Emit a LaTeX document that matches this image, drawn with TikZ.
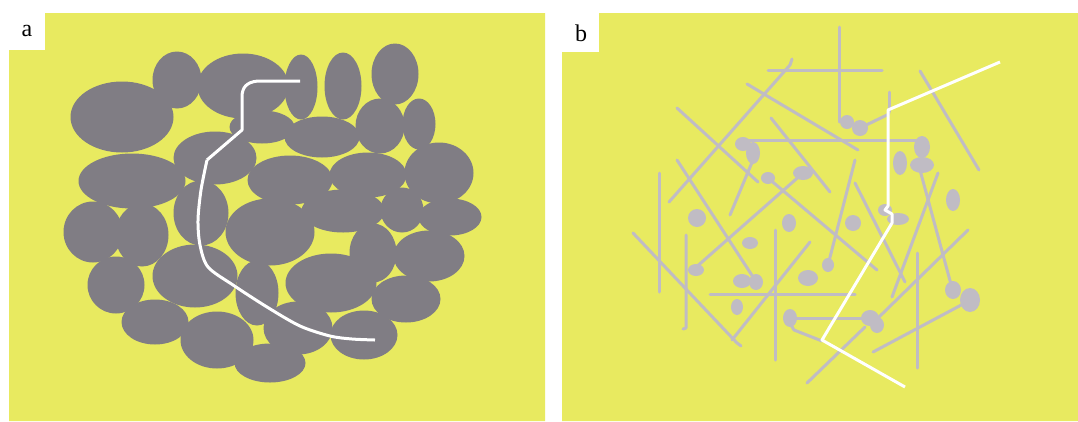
\documentclass[tikz,border=0pt]{standalone}
\usepackage{fontspec}
\setmainfont{Liberation Serif}
\definecolor{bg}{RGB}{232,234,96}
\definecolor{grain}{RGB}{128,125,132}
\definecolor{fib}{RGB}{192,188,196}
\tikzset{
  grainfill/.style={fill=grain},
  fibline/.style={draw=fib, line width=3pt, line cap=round, line join=round},
  blob/.style={fill=fib},
  wpath/.style={draw=white, line width=3pt, line join=round},
  panellabel/.style={font=\fontsize{24}{24}\selectfont, inner sep=0pt}
}
\begin{document}
\begin{tikzpicture}[x=1pt,y=-1pt]
\useasboundingbox (0,0) rectangle (1078,421);
\fill[white] (0,0) rectangle (1078,421);
% panel a background
\fill[bg] (9,50) -- (45,50) -- (45,13) -- (545,13) -- (545,421) -- (9,421) -- cycle;
\node[panellabel] (la) at (27,31) {a};
% panel b background
\fill[bg] (562,52) -- (599,52) -- (599,13) -- (1078,13) -- (1078,421) -- (562,421) -- cycle;
\node[panellabel] (lb) at (581,33) {b};
% grains in panel a
\foreach \cx/\cy/\rx/\ry in {
 122/117/50/34, 177/80/23/27, 243/86/44/31, 301/87/15/31, 343/86/17/32,
 395/74/22/29, 380/126/23/26, 419/124/15/24, 322/137/36/19, 262/127/31/15,
 215/158/40/25, 132/181/52/26, 290/180/41/23, 368/175/37/21, 439/173/33/29,
 343/211/40/20, 402/210/20/21, 450/217/30/17, 93/232/28/29, 142/235/25/30,
 201/213/26/31, 270/232/43/32, 373/253/22/28, 429/256/34/24, 116/285/27/27,
 195/276/41/30, 257/293/20/31, 331/283/44/28, 406/299/33/22, 155/322/32/21,
 217/340/35/27, 298/328/33/25, 364/335/32/23, 270/363/34/18}
 { \fill[grainfill] (\cx,\cy) ellipse [x radius=\rx+1.5, y radius=\ry+1.5]; }
% crack path in panel a
\draw[wpath] (300,81) -- (258,81) .. controls (246,82) and (242,88) .. (242,97) -- (242,130) -- (207,160);
\draw[wpath] plot[smooth, tension=0.5] coordinates {(207,160) (201,190) (198,220) (200,245) (208,267) (233,285) (267,307) (300,326) (330,336) (352,339) (375,340)};
% fibres in panel b
\draw[fibline] (839,27) -- (839,122);
\draw[fibline] (768,70) -- (882,70);
\draw[fibline] (792,59) -- (790,65) -- (669,202);
\draw[fibline] (747,84) -- (858,150);
\draw[fibline] (677,108) -- (758,182);
\draw[fibline] (771,118) -- (830,192);
\draw[fibline] (743,140) -- (922,140);
\draw[fibline] (753,160) -- (730,215);
\draw[fibline] (803,173) -- (694,269);
\draw[fibline] (768,178) -- (877,270);
\draw[fibline] (855,160) -- (828,265);
\draw[fibline] (677,160) -- (755,280);
\draw[fibline] (659,173) -- (659,292);
\draw[fibline] (633,233) -- (737,343) -- (741,346);
\draw[fibline] (686,235) -- (686,328) -- (683,329);
\draw[fibline] (732,340) -- (810,242);
\draw[fibline] (775,230) -- (775,360);
\draw[fibline] (710,294) -- (855,294);
\draw[fibline] (790,318) -- (870,318);
\draw[fibline] (791,325) -- (794,330) -- (822,341);
\draw[fibline] (807,383) -- (865,327);
\draw[fibline] (860,128) -- (889,114);
\draw[fibline] (920,71) -- (979,170);
\draw[fibline] (920,170) -- (952,288);
\draw[fibline] (938,173) -- (892,297);
\draw[fibline] (855,183) -- (905,282);
\draw[fibline] (968,230) -- (878,318);
\draw[fibline] (917,253) -- (917,368);
\draw[fibline] (965,303) -- (873,352);
\draw[fibline] (889,92) -- (889,112);
% blobs
\foreach \cx/\cy/\rx/\ry in {
 847/122/6/6, 860/128/7/7, 743/144/7/6, 753/153/6/10, 922/147/7/10,
 768/178/6/5, 803/173/9/6, 696/270/7/5, 756/282/6/7, 697/218/8/8,
 789/223/6/8, 750/243/7/5, 742/281/8/6, 808/278/9/7, 737/307/5/7,
 828/265/5/6, 790/318/6/8, 870/318/8/7, 877/325/6/7, 900/163/6/11,
 922/165/11/7, 953/200/6/10, 853/223/7/7, 898/219/10/5, 885/210/6/5,
 953/290/7/8, 970/300/9/11}
 { \fill[blob] (\cx,\cy) ellipse [x radius=\rx+1, y radius=\ry+1]; }
% crack path in panel b
\draw[wpath] (1000,62) -- (888,110) -- (888,206) -- (885,210) -- (892,214) -- (892,223) -- (822,340) -- (905,387);
\end{tikzpicture}
\end{document}
